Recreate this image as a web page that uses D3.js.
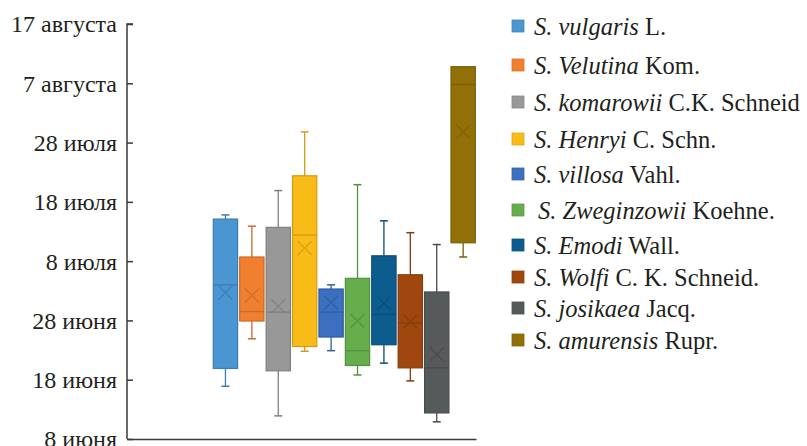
<!DOCTYPE html>
<html>
<head>
<meta charset="utf-8">
<script src="https://cdn.jsdelivr.net/npm/d3@7"></script>
<style>
  html, body { margin: 0; padding: 0; background: #fff; }
  svg { display: block; }
</style>
</head>
<body>
<svg id="chart" width="807" height="446"></svg>
<script>
// ---- Data (days counted from 8 June) ----
const speciesItalic = ["S. vulgaris", "S. Velutina", "S. komarowii", "S. Henryi", "S. villosa",
  "S. Zweginzowii", "S. Emodi", "S. Wolfi", "S. josikaea", "S. amurensis"];
const speciesAuthor = ["L.", "Kom.", "C.K. Schneid", "C. Schn.", "Vahl.",
  "Koehne.", "Wall.", "C. K. Schneid.", "Jacq.", "Rupr."];
const colors = ["#4a96d2", "#f08030", "#989898", "#f9bb18", "#3b6fbf",
  "#66ad4c", "#0d5c8e", "#a0470f", "#555a5a", "#927008"];

const whiskerMin = [8.9, 16.9, 3.9, 14.8, 14.9, 10.8, 12.8, 9.8, 2.9, 30.7];
const q1         = [11.9, 19.9, 11.5, 15.6, 17.2, 12.4, 15.9, 12.0, 4.4, 33.1];
const median     = [26.0, 21.5, 21.4, 34.4, 21.4, 14.9, 21.0, 19.6, 12.0, 59.8];
const q3         = [37.1, 30.7, 35.7, 44.4, 25.3, 27.1, 30.9, 27.7, 24.8, 62.8];
const whiskerMax = [37.8, 35.9, 41.9, 51.8, 26.0, 42.9, 36.8, 34.8, 32.8, 62.8];
const mean       = [24.7, 24.2, 22.4, 32.2, 23.0, 19.9, 22.9, 19.8, 14.3, 51.8];

const yTickValues = [0, 10, 20, 30, 40, 50, 60, 70];
const yTickLabels = ["8 июня", "18 июня", "28 июня", "8 июля", "18 июля", "28 июля", "7 августа", "17 августа"];

// ---- Layout ----
const svg = d3.select("#chart");
const axisX = 127, axisRight = 476;
const y = d3.scaleLinear().domain([0, 70]).range([439, 24]);
const x = d3.scaleBand().domain(d3.range(speciesItalic.length)).range([213.3, 475.3]).paddingInner(0.08).paddingOuter(0);
const font = "'Liberation Serif', 'Times New Roman', serif";

// Y axis
const yAxis = d3.axisRight(y).tickValues(yTickValues).tickSize(6).tickFormat("");
const gy = svg.append("g").attr("transform", `translate(${axisX},0)`).call(yAxis);
gy.select(".domain").attr("stroke", "#3a3a3a").attr("stroke-width", 1.5).attr("d", `M6,${y(70)}H0V${y(0)}`);
gy.selectAll(".tick line").attr("stroke", "#3a3a3a").attr("stroke-width", 1.5);

svg.append("g").selectAll("text").data(yTickValues).join("text")
  .attr("x", axisX - 10)
  .attr("y", d => y(d))
  .attr("dy", "0.35em")
  .attr("text-anchor", "end")
  .attr("font-family", font)
  .attr("font-size", 24)
  .attr("fill", "#231f20")
  .text((d, i) => yTickLabels[i]);

// X axis line
const xAxisScale = d3.scaleLinear().domain([0, 1]).range([axisX, axisRight]);
const gx = svg.append("g").attr("transform", `translate(0,${y(0)})`)
  .call(d3.axisBottom(xAxisScale).tickValues([]).tickSizeOuter(0));
gx.select(".domain").attr("stroke", "#3a3a3a").attr("stroke-width", 1.5);

// Boxes
const bw = x.bandwidth();
const capW = 8;
const boxes = svg.append("g").selectAll("g").data(d3.range(speciesItalic.length)).join("g")
  .attr("transform", i => `translate(${x(i)},0)`);

boxes.each(function(i) {
  const g = d3.select(this);
  const c = colors[i];
  const dark = d3.color(c).darker(0.5).formatHex();
  const cx = bw / 2;
  // whiskers
  g.append("line").attr("x1", cx).attr("x2", cx).attr("y1", y(whiskerMax[i])).attr("y2", y(q3[i]))
    .attr("stroke", dark).attr("stroke-width", 1.3);
  g.append("line").attr("x1", cx).attr("x2", cx).attr("y1", y(q1[i])).attr("y2", y(whiskerMin[i]))
    .attr("stroke", dark).attr("stroke-width", 1.3);
  if (whiskerMax[i] > q3[i]) {
    g.append("line").attr("x1", cx - capW / 2).attr("x2", cx + capW / 2).attr("y1", y(whiskerMax[i])).attr("y2", y(whiskerMax[i]))
      .attr("stroke", dark).attr("stroke-width", 1.5);
  }
  g.append("line").attr("x1", cx - capW / 2).attr("x2", cx + capW / 2).attr("y1", y(whiskerMin[i])).attr("y2", y(whiskerMin[i]))
    .attr("stroke", dark).attr("stroke-width", 1.5);
  // box
  g.append("rect").attr("x", 0).attr("width", bw)
    .attr("y", y(q3[i])).attr("height", y(q1[i]) - y(q3[i]))
    .attr("fill", c).attr("stroke", dark).attr("stroke-width", 1.2);
  // median
  g.append("line").attr("x1", 0).attr("x2", bw).attr("y1", y(median[i])).attr("y2", y(median[i]))
    .attr("stroke", dark).attr("stroke-width", 1.3);
  // mean marker X
  const my = y(mean[i]), s = 7;
  g.append("path").attr("d", `M${cx - s},${my - s}L${cx + s},${my + s}M${cx - s},${my + s}L${cx + s},${my - s}`)
    .attr("stroke", dark).attr("stroke-width", 1.3).attr("fill", "none").attr("opacity", 0.85);
});

// Legend
const legendRows = [26, 65, 102, 139, 174, 210, 245, 277, 308, 340];
const legend = svg.append("g").selectAll("g").data(d3.range(speciesItalic.length)).join("g")
  .attr("transform", (i) => `translate(512,${legendRows[i]})`);
legend.append("rect").attr("x", 0).attr("y", -6).attr("width", 12).attr("height", 12)
  .attr("fill", i => colors[i]).attr("stroke", i => d3.color(colors[i]).darker(0.3).formatHex()).attr("stroke-width", 0.8);
const lt = legend.append("text").attr("x", i => i === 5 ? 26 : 22).attr("y", 0).attr("dy", "0.35em")
  .attr("font-family", font).attr("font-size", 24.5).attr("fill", "#231f20");
lt.append("tspan").attr("font-style", "italic").text(i => speciesItalic[i]);
lt.append("tspan").text(i => " " + speciesAuthor[i]);
</script>
</body>
</html>
